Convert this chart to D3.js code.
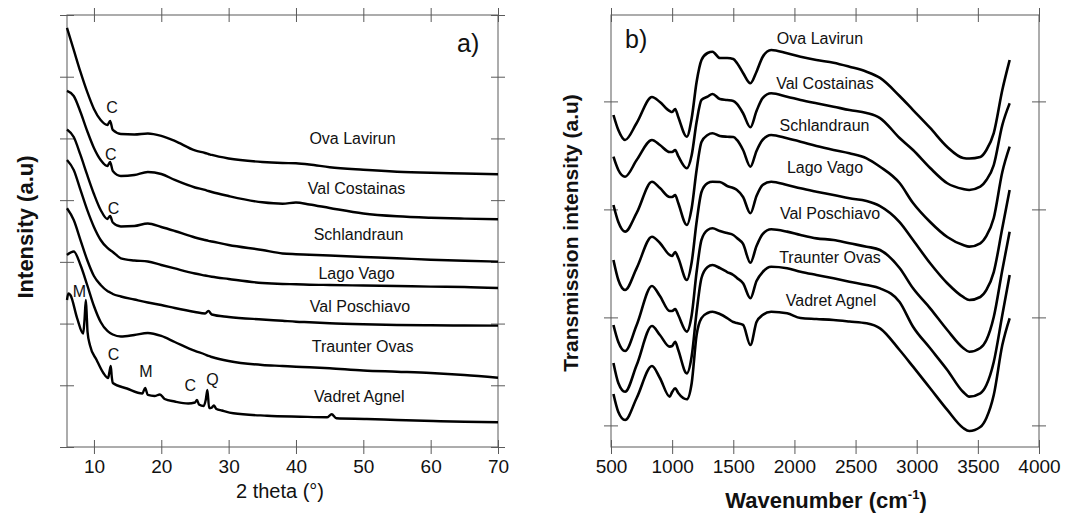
<!DOCTYPE html>
<html><head><meta charset="utf-8">
<script src="https://cdn.jsdelivr.net/npm/d3@7"></script>
<style>
html,body{margin:0;padding:0;background:#fff;}
svg{display:block;font-family:Arial,"Liberation Sans",sans-serif;}
</style></head><body>
<svg id="chart" width="1065" height="513"></svg>
<script>
// ---------------- Panel a) XRD data ----------------
const samples = ["Ova Lavirun","Val Costainas","Schlandraun","Lago Vago","Val Poschiavo","Traunter Ovas","Vadret Agnel"];

const xrdTheta = [6,7,8,9,10,11,12,12.4,12.8,14,16,18,20,22,25,26.5,27,27.5,30,35,38,40,42,45,50,55,60,65,70];
const xrdOvaLavirun   = [6.790,6.434,6.077,5.753,5.478,5.299,5.218,5.283,5.137,5.072,5.064,5.080,5.040,4.959,4.805,4.764,4.748,4.732,4.675,4.618,4.602,4.597,4.578,4.533,4.492,4.461,4.443,4.432,4.419];
const xrdValCostainas = [5.769,5.688,5.429,5.121,4.846,4.651,4.554,4.619,4.473,4.392,4.408,4.456,4.424,4.327,4.205,4.165,4.148,4.132,4.067,3.965,3.942,3.962,3.930,3.873,3.784,3.738,3.714,3.700,3.690];
const xrdSchlandraun  = [5.145,5.023,4.732,4.408,4.100,3.841,3.695,3.743,3.638,3.573,3.581,3.622,3.565,3.500,3.395,3.354,3.341,3.330,3.273,3.192,3.136,3.124,3.116,3.103,3.079,3.058,3.035,3.017,3.003];
const xrdLagoVago     = [4.651,4.489,4.165,3.841,3.565,3.354,3.225,3.192,3.160,3.058,3.022,3.006,2.949,2.893,2.812,2.779,2.768,2.758,2.722,2.658,2.641,2.637,2.630,2.625,2.617,2.609,2.598,2.593,2.577];
const xrdValPoschiavo = [3.868,3.678,3.354,3.030,2.771,2.625,2.528,2.504,2.479,2.439,2.390,2.342,2.301,2.252,2.188,2.163,2.205,2.147,2.107,2.066,2.045,2.030,2.021,2.005,1.988,1.977,1.972,1.969,1.966];
const xrdTraunterOvas = [3.111,3.168,2.949,2.625,2.285,2.026,1.880,1.847,1.823,1.791,1.815,1.847,1.799,1.701,1.556,1.499,1.475,1.458,1.394,1.329,1.313,1.301,1.292,1.275,1.240,1.220,1.199,1.167,1.123];

const vadretTheta = [6.0,6.2,6.5,7.5,8.4,8.6,8.8,8.95,9.05,9.4,10.4,11.4,12.1,12.3,12.5,12.65,12.8,14.9,17.2,17.6,18.0,19.0,19.8,20.5,22,24,25.0,25.3,25.6,26.3,26.6,26.85,27.1,27.5,27.8,28.2,29,30.7,35.7,40.6,44.6,45.3,46,50.5,55,60.4,65,70];
const vadretIntensity = [2.382,2.487,2.463,2.090,1.839,2.058,2.382,2.090,1.864,1.653,1.410,1.199,1.118,1.215,1.313,1.134,1.037,0.948,0.867,0.956,0.843,0.826,0.851,0.778,0.737,0.705,0.721,0.762,0.689,0.664,0.762,0.924,0.632,0.640,0.672,0.616,0.591,0.546,0.507,0.491,0.481,0.530,0.465,0.454,0.438,0.421,0.408,0.400];

const xrdTicksX = [10,20,30,40,50,60,70];
const xrdTicksY = [0,1,2,3,4,5,6,7];

// peak annotations (2theta, intensity, text)
const xrdPeakLabels = [
  {t:12.7, v:5.41, s:"C"},
  {t:12.5, v:4.65, s:"C"},
  {t:12.9, v:3.78, s:"C"},
  {t:7.83, v:2.43, s:"M"},
  {t:12.9, v:1.41, s:"C"},
  {t:17.7, v:1.13, s:"M"},
  {t:24.3, v:0.90, s:"C"},
  {t:27.6, v:1.00, s:"Q"}
];
const xrdNameTheta = [48.4,49.0,49.3,49.0,49.5,49.9,49.4];
const xrdNameLevel = [4.910,4.095,3.354,2.718,2.193,1.544,0.734];

// ---------------- Panel b) FTIR data ----------------
const ftirWavenumber = [520,560,615,710,835,900,980,1000,1025,1050,1120,1160,1200,1240,1290,1330,1390,1450,1500,1530,1580,1640,1690,1740,1810,1940,2050,2180,2320,2450,2590,2700,2860,2970,3110,3250,3380,3430,3520,3570,3630,3700,3760];
const ftirOvaLavirun   = [2.874,2.735,2.643,2.800,3.041,2.994,2.911,2.902,2.930,2.856,2.673,2.846,3.180,3.383,3.448,3.460,3.402,3.402,3.393,3.356,3.263,3.168,3.275,3.411,3.476,3.445,3.414,3.383,3.358,3.321,3.275,3.217,3.050,2.920,2.754,2.578,2.476,2.471,2.485,2.550,2.707,3.106,3.383];
const ftirValCostainas = [2.488,2.365,2.303,2.457,2.643,2.596,2.531,2.531,2.550,2.494,2.381,2.504,2.809,3.013,3.044,3.069,3.022,3.013,3.004,2.976,2.890,2.760,2.911,3.031,3.075,3.044,3.013,2.982,2.951,2.920,2.893,2.846,2.661,2.550,2.383,2.242,2.189,2.180,2.210,2.272,2.411,2.781,2.982];
const ftirSchlandraun  = [2.041,1.883,1.794,1.967,2.256,2.198,2.115,2.115,2.133,2.059,1.856,2.013,2.365,2.624,2.689,2.705,2.680,2.673,2.670,2.643,2.550,2.395,2.541,2.643,2.689,2.658,2.627,2.587,2.550,2.519,2.473,2.395,2.244,2.059,1.883,1.744,1.670,1.655,1.686,1.754,1.920,2.346,2.581];
const ftirLagoVago     = [1.531,1.346,1.254,1.457,1.747,1.689,1.578,1.569,1.606,1.550,1.346,1.513,1.883,2.161,2.244,2.256,2.254,2.217,2.198,2.180,2.115,1.964,2.124,2.226,2.256,2.226,2.195,2.164,2.133,2.103,2.078,2.031,1.883,1.717,1.501,1.316,1.189,1.161,1.189,1.254,1.420,1.828,2.180];
const ftirValPoschiavo = [0.930,0.772,0.689,0.930,1.291,1.198,1.059,1.059,1.078,1.022,0.868,1.022,1.420,1.717,1.809,1.825,1.800,1.781,1.763,1.735,1.680,1.506,1.661,1.772,1.816,1.794,1.763,1.732,1.717,1.686,1.655,1.624,1.457,1.269,1.084,0.883,0.717,0.682,0.717,0.791,1.004,1.439,1.794];
const ftirTraunterOvas = [0.578,0.393,0.312,0.559,0.920,0.837,0.729,0.735,0.775,0.698,0.482,0.643,1.050,1.365,1.467,1.485,1.457,1.420,1.393,1.365,1.316,1.177,1.337,1.420,1.469,1.455,1.423,1.393,1.362,1.331,1.300,1.269,1.143,0.914,0.714,0.513,0.309,0.266,0.297,0.374,0.587,1.022,1.393];
const ftirVadretAgnel  = [0.291,0.124,0.050,0.254,0.550,0.439,0.266,0.309,0.344,0.300,0.242,0.393,0.837,0.994,1.041,1.053,1.031,0.994,0.957,0.948,0.930,0.744,0.957,1.022,1.053,1.038,0.994,0.985,0.976,0.962,0.945,0.899,0.698,0.544,0.344,0.143,-0.024,-0.052,-0.015,0.069,0.281,0.744,0.992];

const ftirTicksX = [500,1000,1500,2000,2500,3000,3500,4000];
const ftirTicksY = [0,1,2,3];
const ftirNameWave  = [2209,2250,2246,2250,2291,2291,2299];
const ftirNameLevel = [3.531,3.112,2.726,2.334,1.911,1.501,1.108];

// ---------------- drawing ----------------
const svg = d3.select("#chart");
const FRAME = "#5a5a5a";
const TICK = 7;

function frameAxes(g, x, y, xTicks, yTicks, m, showX) {
  const fmt = d3.format("d");
  const bottom = g.append("g").attr("transform", `translate(0,${m.bottom})`)
    .call(d3.axisBottom(x).tickValues(xTicks).tickSize(TICK).tickPadding(6).tickFormat(showX ? fmt : ""));
  bottom.selectAll(".tick line").attr("y1", -TICK);
  const top = g.append("g").attr("transform", `translate(0,${m.top})`)
    .call(d3.axisTop(x).tickValues(xTicks).tickSize(TICK).tickFormat(""));
  top.selectAll(".tick line").attr("y1", TICK);
  const left = g.append("g").attr("transform", `translate(${m.left},0)`)
    .call(d3.axisLeft(y).tickValues(yTicks).tickSize(TICK).tickFormat(""));
  left.selectAll(".tick line").attr("x1", TICK);
  const right = g.append("g").attr("transform", `translate(${m.right},0)`)
    .call(d3.axisRight(y).tickValues(yTicks).tickSize(TICK).tickFormat(""));
  right.selectAll(".tick line").attr("x1", -TICK);
  [bottom, top, left, right].forEach(a => {
    a.select(".domain").remove();
    a.selectAll(".tick line").attr("stroke", FRAME).attr("stroke-width", 1);
    a.selectAll(".tick text").attr("fill", "#111").style("font-size", "19px").style("font-family", "Arial, 'Liberation Sans', sans-serif");
  });
  g.append("rect").attr("x", m.left).attr("y", m.top)
    .attr("width", m.right - m.left).attr("height", m.bottom - m.top)
    .attr("fill", "none").attr("stroke", FRAME).attr("stroke-width", 1);
}

// Panel a
const A = {left: 67, right: 498, top: 15, bottom: 447};
const xA = d3.scaleLinear().domain([6, 70]).range([A.left, A.right]);
const yA = d3.scaleLinear().domain([0, 7]).range([A.bottom, A.top]);
const gA = svg.append("g");
frameAxes(gA, xA, yA, xrdTicksX, xrdTicksY, A, true);

const xrdSeries = [xrdOvaLavirun, xrdValCostainas, xrdSchlandraun, xrdLagoVago, xrdValPoschiavo, xrdTraunterOvas]
  .map(vals => xrdTheta.map((t, i) => [t, vals[i]]));
xrdSeries.push(vadretTheta.map((t, i) => [t, vadretIntensity[i]]));

const lineA = d3.line().x(d => xA(d[0])).y(d => yA(d[1])).curve(d3.curveMonotoneX);
gA.selectAll("path.xrd").data(xrdSeries).join("path").attr("class", "xrd")
  .attr("d", lineA).attr("fill", "none").attr("stroke", "#000")
  .attr("stroke-width", 2.4).attr("stroke-linejoin", "round");

gA.selectAll("text.name").data(samples).join("text").attr("class", "name")
  .attr("x", (d, i) => xA(xrdNameTheta[i])).attr("y", (d, i) => yA(xrdNameLevel[i]))
  .attr("text-anchor", "middle").style("font-size", "16px").attr("fill", "#111").text(d => d);

gA.selectAll("text.peak").data(xrdPeakLabels).join("text").attr("class", "peak")
  .attr("x", d => xA(d.t)).attr("y", d => yA(d.v))
  .attr("text-anchor", "middle").style("font-size", "16px").attr("fill", "#111").text(d => d.s);

gA.append("text").attr("x", 457).attr("y", 52).style("font-size", "25px").attr("fill", "#111").text("a)");
gA.append("text").attr("x", 280).attr("y", 498)
  .attr("text-anchor", "middle").style("font-size", "20px").attr("fill", "#111").text("2 theta (°)");
gA.append("text").attr("transform", `translate(33,227) rotate(-90)`)
  .attr("text-anchor", "middle").style("font-size", "22px").style("font-weight", "bold").attr("fill", "#111")
  .text("Intensity (a.u)");

// Panel b
const B = {left: 611, right: 1039, top: 15, bottom: 447};
const xB = d3.scaleLinear().domain([500, 4000]).range([B.left, B.right]);
const yB = d3.scaleLinear().domain([-0.2, 3.8]).range([B.bottom, B.top]);
const gB = svg.append("g");
frameAxes(gB, xB, yB, ftirTicksX, ftirTicksY, B, true);

const ftirSeries = [ftirOvaLavirun, ftirValCostainas, ftirSchlandraun, ftirLagoVago, ftirValPoschiavo, ftirTraunterOvas, ftirVadretAgnel]
  .map(vals => ftirWavenumber.map((w, i) => [w, vals[i]]));
const lineB = d3.line().x(d => xB(d[0])).y(d => yB(d[1])).curve(d3.curveMonotoneX);
gB.selectAll("path.ftir").data(ftirSeries).join("path").attr("class", "ftir")
  .attr("d", lineB).attr("fill", "none").attr("stroke", "#000")
  .attr("stroke-width", 2.6).attr("stroke-linejoin", "round");

gB.selectAll("text.name").data(samples).join("text").attr("class", "name")
  .attr("x", (d, i) => xB(ftirNameWave[i])).attr("y", (d, i) => yB(ftirNameLevel[i]))
  .attr("text-anchor", "middle").style("font-size", "16px").attr("fill", "#111").text(d => d);

gB.append("text").attr("x", 625).attr("y", 48).style("font-size", "25px").attr("fill", "#111").text("b)");
const wt = gB.append("text").attr("x", 826).attr("y", 508).attr("text-anchor", "middle")
  .style("font-size", "22px").style("font-weight", "bold").attr("fill", "#111");
wt.append("tspan").text("Wavenumber (cm");
wt.append("tspan").attr("dy", -9).style("font-size", "13px").text("-1");
wt.append("tspan").attr("dy", 9).text(")");
gB.append("text").attr("transform", `translate(578,233) rotate(-90)`)
  .attr("text-anchor", "middle").style("font-size", "21px").style("font-weight", "bold").attr("fill", "#111")
  .text("Transmission intensity (a.u)");
</script>
</body></html>
